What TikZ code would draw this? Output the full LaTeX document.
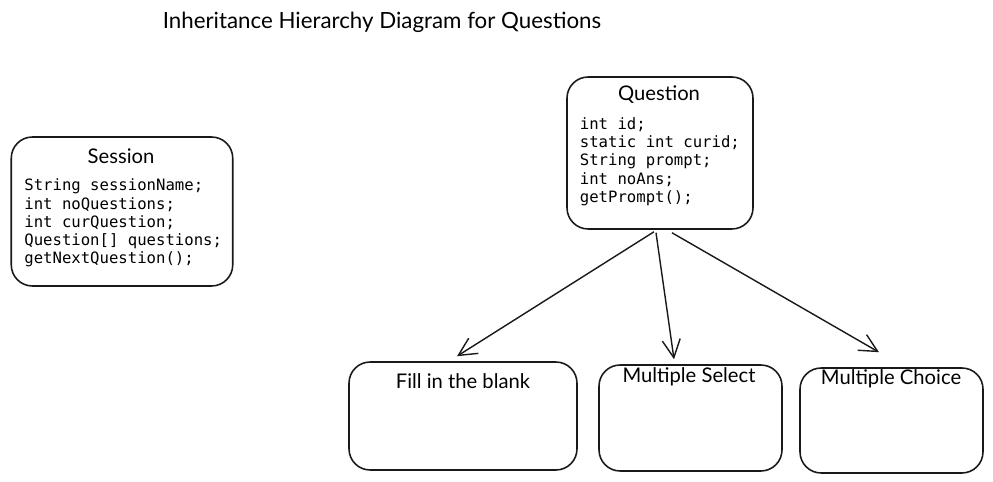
\documentclass[tikz,border=0pt]{standalone}
\usepackage{fontspec}
\setmainfont{Lato}
\setmonofont{DejaVu Sans Mono}
\usetikzlibrary{arrows.meta,positioning,calc}

\begin{document}
\begin{tikzpicture}[x=0.02cm,y=-0.02cm,
  box/.style={draw=black!90,line width=.9pt,rounded corners=12pt,inner sep=0pt},
  head/.style={font=\fontsize{11.5}{13}\selectfont,inner sep=0pt},
  code/.style={font=\ttfamily\fontsize{8.9}{10.4}\selectfont,align=left,anchor=north west,inner sep=0pt},
  flow/.style={-{Straight Barb[length=3.6mm,width=3.6mm]},line width=.8pt,draw=black!90}]
\useasboundingbox (0,0) rectangle (993,482);
\node[font=\fontsize{12.7}{14}\selectfont] (ttl) at (382,22) {Inheritance Hierarchy Diagram for Questions};
% classes
\node[box,minimum width=4.43cm,minimum height=2.98cm] (sess) at (122,211.5) {};
\node[head] (sesst) at (121,156) {Session};
\node[code] (sessb) at (24,178.5) {String sessionName;\\int noQuestions;\\int curQuestion;\\Question[] questions;\\getNextQuestion();};
\node[box,minimum width=3.72cm,minimum height=3.04cm] (qn) at (660,153) {};
\node[head] (qnt) at (659,95) {Question};
\node[code] (qnb) at (579.5,117) {int id;\\static int curid;\\String prompt;\\int noAns;\\getPrompt();};
% subclasses
\node[box,minimum width=4.56cm,minimum height=2.16cm] (fill) at (463,416) {};
\node[head] at (463,381) {Fill in the blank};
\node[box,minimum width=3.66cm,minimum height=2.12cm] (msel) at (690.5,418) {};
\node[head] at (689,377) {Multiple Select};
\node[box,minimum width=3.66cm,minimum height=2.10cm] (mch) at (891.5,420.5) {};
\node[head] at (891,379) {Multiple Choice};
\draw[flow] ([xshift=-0.12cm,yshift=-0.04cm]qn.south) -- ([xshift=-0.12cm,yshift=0.1cm]fill.north);
\draw[flow] ([xshift=-0.08cm,yshift=-0.06cm]qn.south) -- ([xshift=-0.33cm,yshift=0.1cm]msel.north);
\draw[flow] ([xshift=0.24cm,yshift=-0.06cm]qn.south) -- ([xshift=-0.25cm,yshift=0.3cm]mch.north);
\end{tikzpicture}
\end{document}
